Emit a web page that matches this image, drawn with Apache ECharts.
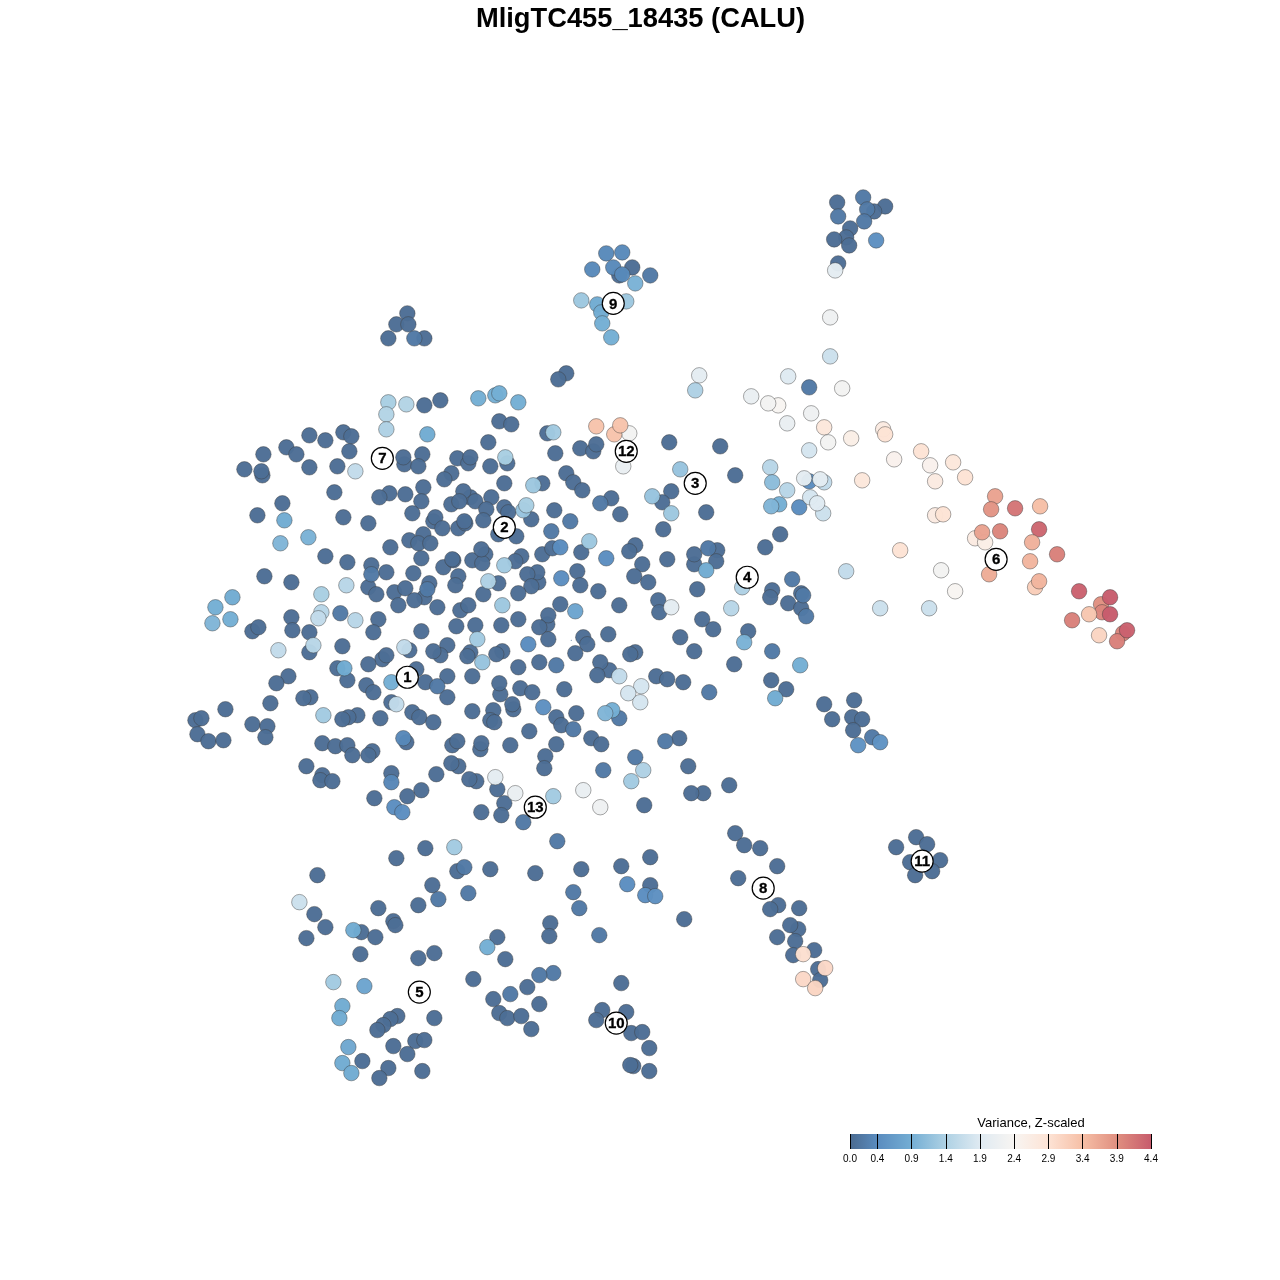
<!DOCTYPE html>
<html>
<head>
<meta charset="utf-8">
<style>html,body{margin:0;padding:0;background:#fff}#c{width:1280px;height:1280px}</style>
<script src="https://cdn.jsdelivr.net/npm/echarts@6/dist/echarts.min.js"></script>
</head>
<body>
<div id="c"></div>
<script>
const chartTitle = 'MligTC455_18435 (CALU)';
const legendTitle = 'Variance, Z-scaled';
const legendTicks = [0.0, 0.4, 0.9, 1.4, 1.9, 2.4, 2.9, 3.4, 3.9, 4.4];
const legendColors = ['#4a6a90','#5a8cbf','#74aed4','#aed1e4','#dfeaf2','#f8f5f2','#fde3d5','#f6bfa6','#e08f80','#c75c6c'];
const darkValue = 0.04;
const slateValue = 0.18;

const clusterLabels = [['1',407,677],['2',504,527],['3',695,483],['4',747,577],['5',419,992],['6',996,559],['7',382,458],['8',763,888],['9',613,303],['10',616,1023],['11',922,861],['12',626,451],['13',535,807]];

const darkCells = [
[837,202],[885,206],[874,211],[850,228],[846,237],[834,239],[849,245],[838,263],[632,267],[619,275],[407,313],[396,324],[408,324],[388,338],[424,338],[566,373],[558,379],
[424,405],[440,400],[499,421],[511,424],[488,442],[309,435],[325,440],[343,432],[351,436],[286,447],[296,454],[263,454],[349,451],[244,469],[262,475],[261,471],[309,467],[337,466],[404,464],[403,457],[422,454],[418,466],[457,458],[468,463],[470,457],[490,466],[507,463],[547,433],[580,448],[593,451],[596,444],[555,453],[669,442],[720,446],
[451,473],[444,479],[504,483],[542,483],[566,473],[573,482],[582,490],[735,475],[334,492],[389,493],[379,497],[405,494],[423,487],[421,501],[470,497],[463,491],[451,504],[459,501],[475,501],[491,497],[486,509],[504,507],[508,512],[282,503],[257,515],[343,517],[368,523],[412,513],[433,521],[435,517],[442,528],[458,528],[465,523],[464,521],[483,520],[531,519],[554,510],[498,534],[516,536],[611,498],[620,514],[671,491],[662,502],[706,512],[663,529],[780,534],
[423,534],[409,540],[418,543],[430,543],[390,547],[325,556],[347,562],[421,558],[371,565],[386,572],[413,573],[443,567],[453,560],[452,559],[472,560],[485,554],[482,563],[481,549],[521,556],[515,561],[542,554],[552,548],[581,552],[635,545],[629,551],[642,564],[667,559],[694,564],[694,554],[717,550],[716,561],[765,547],
[264,576],[291,582],[458,576],[455,585],[498,583],[368,587],[376,594],[394,592],[405,588],[429,583],[424,597],[414,600],[398,605],[437,607],[483,594],[460,610],[468,605],[538,582],[537,572],[527,574],[531,586],[518,593],[577,571],[580,585],[598,591],[634,576],[648,582],[697,589],[772,590],[770,597],[788,603],[801,593],[801,608],
[378,619],[291,617],[252,631],[258,627],[292,630],[309,632],[373,632],[421,631],[456,626],[475,625],[501,625],[560,604],[619,605],[658,600],[659,612],[547,624],[548,615],[518,619],[539,627],[702,619],[713,629],[748,631],[608,634],
[548,639],[583,637],[587,644],[680,637],[575,653],[694,651],[309,652],[342,646],[447,645],[440,655],[433,651],[409,650],[382,659],[386,655],[368,664],[470,652],[467,656],[502,651],[496,654],[635,652],[630,654],[518,667],[539,662],[609,670],[600,662],[597,675],[734,664],[416,669],[447,676],[472,676],[337,668],[347,680],[288,676],[276,683],[425,682],[500,694],[499,683],[520,688],[532,692],[564,689],[366,685],[373,692],[447,697],[656,676],[667,679],[683,682],[771,680],[786,689],[270,703],[310,697],[303,698],
[225,709],[195,720],[201,718],[252,724],[267,726],[265,737],[197,734],[208,741],[223,740],[357,715],[348,717],[342,719],[380,718],[391,702],[513,709],[512,704],[412,712],[419,717],[433,722],[472,711],[493,710],[490,720],[494,722],[556,717],[576,713],[561,725],[529,731],[510,745],[556,744],[591,738],[601,744],[322,743],[335,746],[347,745],[352,755],[372,751],[368,755],[406,742],[452,745],[457,741],[480,749],[481,743],[679,738],[824,704],[832,719],[854,700],[852,717],[862,719],[853,730],
[306,766],[322,775],[320,780],[332,781],[391,773],[458,766],[451,763],[436,774],[476,781],[469,779],[497,789],[421,790],[407,796],[374,798],[504,803],[481,812],[501,815],[545,756],[544,768],[688,766],[729,785],[703,793],[691,793],[644,805],
[396,858],[425,848],[457,871],[490,869],[535,873],[317,875],[432,885],[418,905],[378,908],[314,914],[325,927],[306,938],[361,932],[375,937],[393,921],[395,925],[360,954],[434,953],[418,958],[497,937],[505,959],[550,923],[549,936],[473,979],[527,987],[493,999],[539,1004],[499,1013],[507,1018],[521,1016],[531,1029],[434,1018],[397,1016],[390,1019],[383,1025],[377,1030],[393,1046],[415,1041],[424,1040],[407,1054],[362,1061],[388,1068],[379,1078],[422,1071],[581,869],[621,866],[650,857],[650,885],[684,919],[735,833],[744,845],[760,848],[777,866],[738,878],[778,905],[770,909],[799,908],[798,929],[790,925],[777,937],[795,941],[814,950],[793,955],[818,969],[820,980],[621,983],[602,1010],[626,1012],[596,1020],[631,1033],[642,1032],[649,1048],[633,1066],[630,1065],[649,1071],[916,837],[927,844],[896,847],[910,862],[940,860],[932,871],[915,875]
];

const slateCells = [
[863,197],[867,209],[838,216],[864,221],[650,275],[414,338],[809,387],[600,503],[570,521],[551,531],[708,548],[371,574],[427,589],[792,579],[803,595],[806,616],[340,613],[556,665],[437,686],[772,651],[709,692],[573,729],[619,718],[665,741],[872,737],[635,757],[603,770],[523,822],[438,899],[464,867],[468,893],[557,841],[573,892],[579,908],[599,935],[553,973],[539,975],[510,994]
];

const otherCells = [
[606,253,0.36],[622,252,0.36],[592,269,0.36],[613,267,0.36],[622,274,0.36],[876,240,0.45],[809,481,0.4],[799,507,0.4],[560,547,0.4],[606,558,0.42],[561,578,0.42],[528,644,0.4],[543,707,0.45],[403,738,0.35],[391,782,0.33],[394,807,0.42],[402,812,0.42],[627,884,0.42],[645,895,0.42],[655,896,0.45],[880,742,0.5],[858,745,0.5],
[635,283,0.95],[581,300,1.25],[597,304,0.85],[626,301,1.25],[601,312,0.85],[602,323,0.9],[611,337,0.9],[835,270,2.0],[830,317,2.2],[830,356,1.7],
[388,402,1.35],[406,404,1.45],[386,414,1.45],[386,429,1.4],[427,434,0.85],[478,398,0.9],[495,395,0.9],[499,393,0.9],[518,402,0.9],[355,471,1.6],[284,520,0.85],[308,537,0.95],[280,543,1.0],[346,585,1.5],[321,594,1.35],[232,597,0.85],[215,607,0.9],[230,619,0.9],[212,623,1.0],[321,612,1.5],[318,618,1.6],[355,620,1.5],[505,457,1.35],[533,485,1.25],[523,510,1.2],[526,505,1.35],[504,565,1.3],[488,581,1.4],[502,605,1.25],[575,611,0.75],[553,432,1.3],[589,541,1.25],[652,496,1.2],[671,513,1.25],[680,469,1.2],[706,570,0.85],[742,587,1.4],[731,608,1.5],[744,642,0.95],[800,665,0.9],[671,607,2.0],
[278,650,1.6],[313,645,1.5],[477,639,1.3],[404,647,1.6],[482,662,1.2],[344,668,0.85],[391,682,0.9],[396,704,1.6],[323,715,1.3],[619,676,1.6],[641,686,1.8],[628,693,1.8],[640,702,1.8],[775,698,0.85],[612,710,0.9],[605,713,1.0],[643,770,1.4],[631,781,1.3],[495,777,2.0],[515,793,2.1],[553,796,1.3],[583,790,2.1],[600,807,2.2],
[454,847,1.3],[299,902,1.7],[353,930,0.85],[487,947,0.9],[333,982,1.3],[364,986,0.75],[342,1006,0.85],[339,1018,0.85],[348,1047,0.8],[342,1063,0.85],[351,1073,0.85],
[803,954,2.95],[825,968,3.05],[803,979,3.05],[815,988,3.1],
[596,426,3.35],[629,433,2.3],[614,434,3.35],[620,425,3.35],[623,466,2.1],
[699,375,2.0],[695,390,1.4],[788,376,1.9],[842,388,2.3],[751,396,2.1],[778,405,2.4],[768,403,2.3],[811,413,2.2],[787,423,2.1],[824,427,2.8],[828,442,2.3],[851,438,2.6],[883,429,2.7],[885,434,2.9],[809,450,1.8],[770,467,1.5],[772,482,1.1],[787,490,1.5],[894,459,2.5],[921,451,2.9],[930,465,2.5],[953,462,2.8],[965,477,2.9],[935,481,2.7],[862,480,2.8],[824,482,1.6],[804,478,2.0],[820,479,2.0],[823,513,1.7],[810,497,1.8],[817,503,1.9],[779,504,0.9],[771,506,1.0],[995,496,3.7],[991,509,3.85],[1015,508,4.15],[1040,506,3.4],[1039,529,4.3],[1032,542,3.55],[1000,531,4.0],[975,538,2.7],[985,542,2.6],[982,532,3.7],[935,515,2.7],[943,514,2.9],[1057,554,4.05],[900,550,2.9],[1030,561,3.5],[941,570,2.3],[846,571,1.6],[989,574,3.6],[1035,587,3.2],[1039,581,3.5],[955,591,2.4],[1079,591,4.35],[1101,604,3.9],[1102,612,4.0],[1110,597,4.4],[1110,614,4.4],[1089,614,3.3],[1072,620,4.05],[880,608,1.7],[929,608,1.7],[1099,635,3.1],[1123,633,4.0],[1117,641,4.05],[1127,630,4.35]
];

const specks = [[571,640,0.3]];

function hex(c){return [1,3,5].map(i=>parseInt(c.substr(i,2),16));}
function colorFor(v){
  let i = 0;
  while(i < legendTicks.length-2 && v > legendTicks[i+1]) i++;
  const t = (v-legendTicks[i])/(legendTicks[i+1]-legendTicks[i]);
  const a = hex(legendColors[i]), b = hex(legendColors[i+1]);
  return 'rgb('+a.map((x,k)=>Math.round(x+(b[k]-x)*t)).join(',')+')';
}
const cellData = darkCells.map(p=>[p[0],p[1],darkValue])
  .concat(slateCells.map(p=>[p[0],p[1],slateValue]))
  .concat(otherCells);
const maxV = legendTicks[legendTicks.length-1];
const chart = echarts.init(document.getElementById('c'), null, {renderer:'canvas'});
chart.setOption({
  animation:false,
  backgroundColor:'#fff',
  title:[
    {text:chartTitle,left:640.5,top:6,padding:0,textAlign:'center',textStyle:{fontFamily:'Liberation Sans',fontWeight:'bold',fontSize:27.3,color:'#000'}},
    {text:legendTitle,left:1031,top:1117,padding:0,textAlign:'center',textStyle:{fontFamily:'Liberation Sans',fontWeight:'normal',fontSize:13,color:'#000'}}
  ],
  grid:[
    {left:0.5,top:0.5,width:1280,height:1280},
    {left:850,top:1134,width:301,height:15}
  ],
  xAxis:[
    {type:'value',gridIndex:0,min:0,max:1280,show:false},
    {type:'value',gridIndex:1,min:0,max:maxV,position:'bottom',z:10,
     splitLine:{show:false},axisLine:{show:false},
     axisTick:{show:true,inside:true,length:15,customValues:legendTicks,lineStyle:{color:'#000',width:1}},
     axisLabel:{show:true,customValues:legendTicks,margin:5,fontSize:10,color:'#000',fontFamily:'Liberation Sans',hideOverlap:false,showMinLabel:true,showMaxLabel:true,
       formatter:v=>v.toFixed(1),alignMinLabel:'center',alignMaxLabel:'center'}}
  ],
  yAxis:[
    {type:'value',gridIndex:0,min:0,max:1280,inverse:true,show:false},
    {type:'value',gridIndex:1,min:0,max:1,show:false}
  ],
  series:[
    {type:'scatter',xAxisIndex:0,yAxisIndex:0,data:cellData,symbol:'circle',symbolSize:15.5,silent:true,z:2,
     itemStyle:{color:p=>colorFor(p.value[2]),borderColor:'rgba(60,60,60,0.45)',borderWidth:1,opacity:0.97}},
    {type:'scatter',xAxisIndex:0,yAxisIndex:0,data:specks,symbol:'circle',symbolSize:1,silent:true,z:2,
     itemStyle:{color:'#4a6a90',opacity:1}},
    {type:'scatter',xAxisIndex:0,yAxisIndex:0,data:clusterLabels.map(l=>({value:[l[1],l[2]],name:l[0]})),
     symbol:'circle',symbolSize:22,silent:true,z:5,
     itemStyle:{color:'#fff',borderColor:'#000',borderWidth:1.2,opacity:1},
     label:{show:true,position:'inside',offset:[0,1],formatter:p=>p.name,fontFamily:'Liberation Sans',fontWeight:'bold',fontSize:15,color:'#000',textBorderColor:'#000',textBorderWidth:0.3}},
    {type:'custom',xAxisIndex:1,yAxisIndex:1,silent:true,z:1,data:[[0,maxV]],clip:false,
     renderItem:(params,api)=>{
       const a=api.coord([api.value(0),1]), b=api.coord([api.value(1),0]);
       return {type:'rect',shape:{x:a[0],y:a[1],width:b[0]-a[0],height:b[1]-a[1]},
         style:{fill:new echarts.graphic.LinearGradient(0,0,1,0,legendTicks.map((t,i)=>({offset:t/maxV,color:legendColors[i]})))}};
     }}
  ]
});
</script>
</body>
</html>
